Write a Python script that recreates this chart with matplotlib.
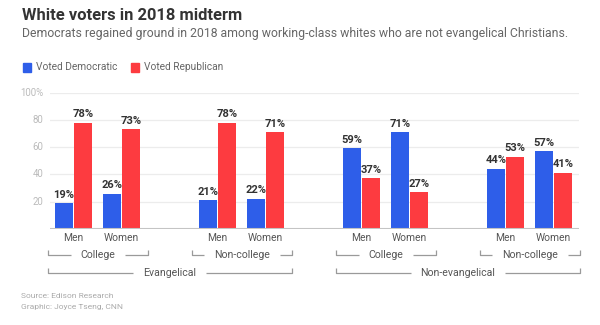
import matplotlib
matplotlib.use("Agg")
import matplotlib.pyplot as plt
import matplotlib.transforms as mtransforms
from matplotlib.patches import Rectangle
import numpy as np

# exit poll shares, white voters, 2018 midterm
genders = ["Men", "Women", "Men", "Women", "Men", "Women", "Men", "Women"]
democratic = [19, 26, 21, 22, 59, 71, 44, 57]
republican = [78, 73, 78, 71, 37, 27, 53, 41]
education = ["College", "Non-college", "College", "Non-college"]
religion = ["Evangelical", "Non-evangelical"]
yticks = [20, 40, 60, 80, 100]

BLUE = "#2e5ee9"
RED = "#fd3b40"
W, H = 600, 325

# one empty slot between each education group
slots = np.array([0, 1, 3, 4, 6, 7, 9, 10])

fig = plt.figure(figsize=(W / 100, H / 100), dpi=100)
fig.patch.set_facecolor("white")


def fx(px):
    return px / W


def fy(py):
    return 1 - py / H


ax = fig.add_axes([fx(49.5), fy(229), fx(579) - fx(49.5), fy(92.5) - fy(229)])

bw = 0.37
ax.bar(slots - 0.198, democratic, width=bw, color=BLUE, zorder=3)
ax.bar(slots + 0.198, republican, width=bw, color=RED, zorder=3)

lab_font = dict(family="Roboto", fontsize=8, fontweight="bold",
                color="#333333", ha="center", va="bottom")
for x, d, r in zip(slots, democratic, republican):
    ax.text(x - 0.198, d + 2.6, f"{d}%", **lab_font)
    ax.text(x + 0.198, r + 2.6, f"{r}%", **lab_font)

ax.set_xlim(-0.5, 10.53)
ax.set_ylim(0, 100)
for v in yticks:
    ax.axhline(v, color="#ececec", lw=0.9, zorder=1)
ax.axhline(0, color="#c4c4c4", lw=1.5, zorder=4)
ax.set_xticks([])
ax.set_yticks([])
for s in ax.spines.values():
    s.set_visible(False)

for v in yticks:
    ax.text(-0.63, v, f"{v}%" if v == 100 else str(v), ha="right", va="center",
            family="Roboto", fontsize=6.9, color="#bbbbbb")

# titles
fig.text(fx(22), fy(20), "White voters in 2018 midterm",
         family="Roboto", fontweight="bold",
         fontsize=11.9, color="#333333", va="baseline")
fig.text(fx(22), fy(37.5),
         "Democrats regained ground in 2018 among working-class whites who are not evangelical Christians.",
         family="Roboto", fontsize=8.8, color="#666666", va="baseline")

# legend
for x0, col, name in [(22.7, BLUE, "Voted Democratic"), (130.7, RED, "Voted Republican")]:
    fig.patches.append(Rectangle((fx(x0), fy(71.7)), fx(8.6), fy(63.3) - fy(71.7),
                                 transform=fig.transFigure, color=col))
    fig.text(fx(x0 + 13.3), fy(67.5), name, family="Roboto", fontsize=7.3,
             color="#666666", va="center")

# category labels under the bars
trans = mtransforms.blended_transform_factory(ax.transData, fig.transFigure)
for x, g in zip(slots, genders):
    ax.text(x, fy(237.7), g, transform=trans, ha="center", va="center",
            family="Roboto", fontsize=7.4, color="#555555")

fig.canvas.draw()
renderer = fig.canvas.get_renderer()


def bracket(x0, x1, py, tick, label):
    t = ax.text((x0 + x1) / 2, fy(py), label, transform=trans, ha="center",
                va="center", family="Roboto", fontsize=7.6, color="#555555")
    bb = t.get_window_extent(renderer)
    inv = ax.transData.inverted()
    tl = inv.transform((bb.x0 - 10, 0))[0]
    tr = inv.transform((bb.x1 + 10, 0))[0]
    kw = dict(transform=trans, color="#9a9a9a", lw=0.9, clip_on=False,
              solid_capstyle="butt")
    ax.plot([x0, x0, tl], [fy(py - tick), fy(py), fy(py)], **kw)
    ax.plot([tr, x1, x1], [fy(py), fy(py), fy(py - tick)], **kw)


for i, name in enumerate(education):
    a, b = slots[2 * i], slots[2 * i + 1]
    bracket(a - 0.53, b + 0.55, 254.5, 5, name)
for i, name in enumerate(religion):
    a, b = slots[4 * i], slots[4 * i + 3]
    bracket(a - 0.53, b + 0.55, 273, 5, name)

fig.text(fx(21), fy(295.7), "Source: Edison Research", family="Roboto",
         fontsize=6.0, color="#aaaaaa", va="center")
fig.text(fx(21), fy(307), "Graphic: Joyce Tseng, CNN", family="Roboto",
         fontsize=6.0, color="#aaaaaa", va="center")

fig.savefig("out.png", dpi=100)
